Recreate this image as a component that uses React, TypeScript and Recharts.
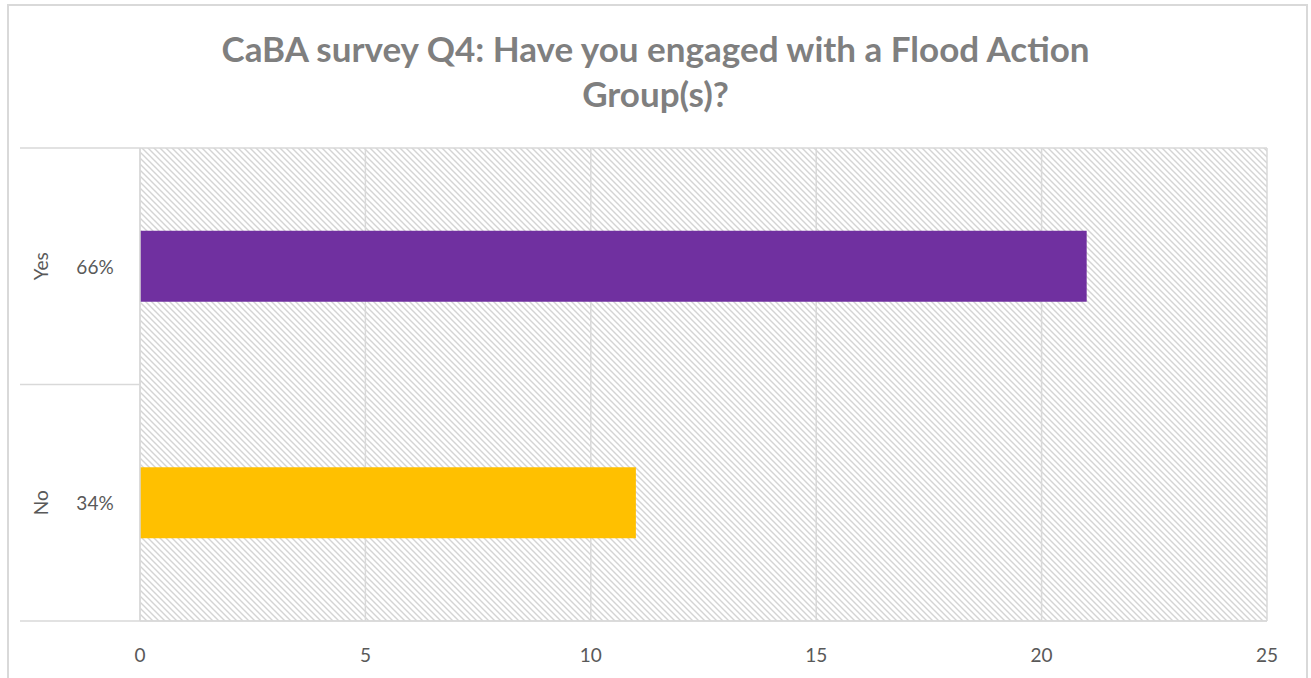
import { BarChart, Bar, XAxis, YAxis, CartesianGrid, Cell } from 'recharts';

// survey answers
const answers = ['Yes', 'No'];
const counts = [21, 11];
const shares = ['66%', '34%'];
const barColors = ['#7030A0', '#FFC000'];
const xTicks = [0, 5, 10, 15, 20, 25];

const data = answers.map((a, i) => ({ name: a, count: counts[i], share: shares[i] }));

const GRID = '#d9d9d9';
const TEXT = '#595959';
const FONT = 'Lato, "Open Sans", sans-serif';
const PLOT_LEFT = 140;

// multi-level category label: rotated answer + percentage, plus divider lines on the left
function CategoryTick(props: any) {
  const { y, payload, index } = props;
  const half = payload.offset ?? 0;
  const row = data[index];
  return (
    <g>
      <line x1={20} x2={PLOT_LEFT} y1={y - half} y2={y - half} stroke={GRID} strokeWidth={1.5} />
      {index === data.length - 1 && (
        <line x1={20} x2={PLOT_LEFT} y1={y + half} y2={y + half} stroke={GRID} strokeWidth={1.5} />
      )}
      <text
        x={40}
        y={y}
        transform={`rotate(-90 40 ${y})`}
        textAnchor="middle"
        dominantBaseline="central"
        fill={TEXT}
        fontSize={19}
        fontFamily={FONT}
      >
        {row?.name}
      </text>
      <text x={95} y={y} textAnchor="middle" dominantBaseline="central" fill={TEXT} fontSize={19} fontFamily={FONT}>
        {row?.share}
      </text>
    </g>
  );
}

export default function App() {
  return (
    <div style={{ position: 'relative', width: 1311, height: 678, background: '#fff', overflow: 'hidden' }}>
      <style>{`body{margin:0}`}</style>
      <svg width={0} height={0} style={{ position: 'absolute' }}>
        <defs>
          <pattern id="hatch" width={6} height={6} patternUnits="userSpaceOnUse">
            <rect width={6} height={6} fill="#fff" />
            <path d="M-1,-1 L7,7 M-1,5 L1,7 M5,-1 L7,1" stroke="#d4d4d4" strokeWidth={1.4} />
          </pattern>
        </defs>
      </svg>
      {/* chart frame */}
      <div
        style={{
          position: 'absolute',
          left: 7,
          top: 4,
          width: 1301,
          height: 700,
          border: `2px solid ${GRID}`,
          boxSizing: 'border-box',
        }}
      />
      <div
        style={{
          position: 'absolute',
          left: 0,
          top: 26,
          width: 1311,
          textAlign: 'center',
          fontFamily: FONT,
          fontWeight: 700,
          fontSize: 35,
          lineHeight: '45px',
          color: '#7f7f7f',
        }}
      >
        CaBA survey Q4: Have you engaged with a Flood Action
        <br />
        Group(s)?
      </div>
      <div style={{ position: 'absolute', left: 0, top: 0 }}>
        <BarChart
          width={1311}
          height={678}
          data={data}
          layout="vertical"
          margin={{ top: 148, right: 44, bottom: 27, left: 0 }}
          barCategoryGap="35%"
        >
          <CartesianGrid
            fill="url(#hatch)"
            stroke={GRID}
            strokeWidth={1.5}
            horizontal
            vertical
            horizontalCoordinatesGenerator={({ offset }: any) => [offset.top, offset.top + offset.height]}
          />
          <XAxis
            type="number"
            domain={[0, 25]}
            ticks={xTicks}
            height={30}
            axisLine={{ stroke: GRID, strokeWidth: 1.5 }}
            tickLine={false}
            tick={{ fill: TEXT, fontSize: 19, fontFamily: FONT }}
            tickMargin={22}
          />
          <YAxis
            type="category"
            dataKey="name"
            width={PLOT_LEFT}
            axisLine={{ stroke: GRID, strokeWidth: 1.5 }}
            tickLine={false}
            tick={<CategoryTick />}
            interval={0}
          />
          <Bar dataKey="count" isAnimationActive={false}>
            {data.map((d, i) => (
              <Cell key={d.name} fill={barColors[i]} />
            ))}
          </Bar>
        </BarChart>
      </div>
    </div>
  );
}
